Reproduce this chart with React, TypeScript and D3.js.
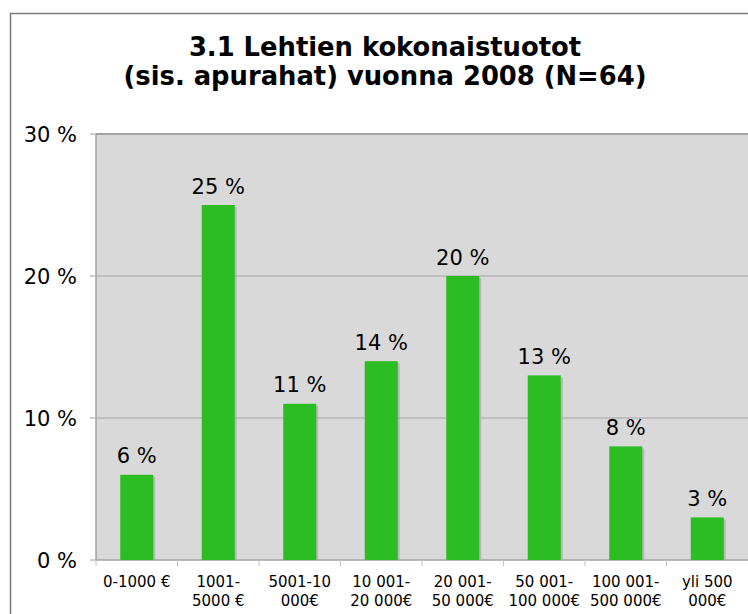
import React from "react";
import * as d3 from "d3";

const categories: string[][] = [
  ["0-1000 €"],
  ["1001-", "5000 €"],
  ["5001-10", "000€"],
  ["10 001-", "20 000€"],
  ["20 001-", "50 000€"],
  ["50 001-", "100 000€"],
  ["100 001-", "500 000€"],
  ["yli 500", "000€"],
];
const values: number[] = [6, 25, 11, 14, 20, 13, 8, 3];
const yTicks: number[] = [0, 10, 20, 30];
const titleLines: string[] = ["3.1 Lehtien kokonaistuotot", "(sis. apurahat) vuonna 2008 (N=64)"];

const W = 748;
const H = 614;
const plotLeft = 96;
const plotRight = 748;
const plotTop = 134;
const plotBottom = 560;

export default function App() {
  const keys = categories.map((c) => c.join(" "));
  const x = d3
    .scaleBand<string>()
    .domain(keys)
    .range([plotLeft, plotRight])
    .paddingInner(0.595)
    .paddingOuter(0.2975);
  const y = d3.scaleLinear().domain([0, 30]).range([plotBottom, plotTop]);
  const step = x.step();
  const font = "'DejaVu Sans', Verdana, sans-serif";

  return (
    <svg
      width={W}
      height={H}
      style={{ position: "absolute", left: 0, top: 0, background: "#fff" }}
    >
      {/* outer frame */}
      <rect x={10.5} y={13.5} width={W + 20} height={H + 20} fill="#fff" stroke="#7a7a7a" strokeWidth={1.5} />

      {/* title */}
      {titleLines.map((t, i) => (
        <text
          key={i}
          x={385}
          y={56 + i * 29}
          textAnchor="middle"
          fontFamily={font}
          fontWeight="bold"
          fontSize={25.8}
          fill="#000"
        >
          {t}
        </text>
      ))}

      {/* plot background */}
      <rect x={plotLeft} y={plotTop} width={plotRight - plotLeft + 10} height={plotBottom - plotTop} fill="#d9d9d9" />

      {/* gridlines */}
      {yTicks.filter((v) => v > 0 && v < 30).map((v) => (
        <line key={v} x1={plotLeft} x2={plotRight + 10} y1={y(v)} y2={y(v)} stroke="#a3a3a3" strokeWidth={1} />
      ))}
      <line x1={plotLeft} x2={plotRight + 10} y1={plotTop} y2={plotTop} stroke="#a3a3a3" strokeWidth={2} />
      <line x1={plotLeft} x2={plotLeft} y1={plotTop} y2={plotBottom} stroke="#a3a3a3" strokeWidth={1.5} />
      <line x1={plotLeft} x2={plotRight + 10} y1={plotBottom} y2={plotBottom} stroke="#a3a3a3" strokeWidth={1.5} />

      {/* y ticks + labels */}
      {yTicks.map((v) => (
        <g key={v}>
          <line x1={90} x2={plotLeft} y1={y(v)} y2={y(v)} stroke="#bdbdbd" strokeWidth={1.5} />
          <text
            x={77}
            y={y(v) + 8}
            textAnchor="end"
            fontFamily={font}
            fontSize={21}
            fill="#000"
          >
            {v} %
          </text>
        </g>
      ))}

      {/* x ticks */}
      {keys.map((k, i) => (
        <line
          key={k}
          x1={plotLeft + i * step}
          x2={plotLeft + i * step}
          y1={plotBottom}
          y2={plotBottom + 6}
          stroke="#c4c4c4"
          strokeWidth={1}
        />
      ))}

      {/* bars */}
      {keys.map((k, i) => {
        const bx = x(k) as number;
        const bw = x.bandwidth();
        const top = y(values[i]);
        return (
          <g key={k}>
            <rect x={bx + 2} y={top + 2} width={bw} height={plotBottom - top - 2} fill="#a9a9a9" opacity={0.7} />
            <rect x={bx} y={top} width={bw} height={plotBottom - top} fill="#2bbd22" />
            <text
              x={bx + bw / 2}
              y={top - 11.5}
              textAnchor="middle"
              fontFamily={font}
              fontSize={21}
              fill="#000"
            >
              {values[i]} %
            </text>
          </g>
        );
      })}

      {/* x labels */}
      {categories.map((lines, i) => {
        const cx = (x(keys[i]) as number) + x.bandwidth() / 2;
        return (
          <text key={i} textAnchor="middle" fontFamily={font} fontSize={15} fill="#000">
            {lines.map((l, j) => (
              <tspan key={j} x={cx} y={587 + j * 18.5}>
                {l}
              </tspan>
            ))}
          </text>
        );
      })}
    </svg>
  );
}
